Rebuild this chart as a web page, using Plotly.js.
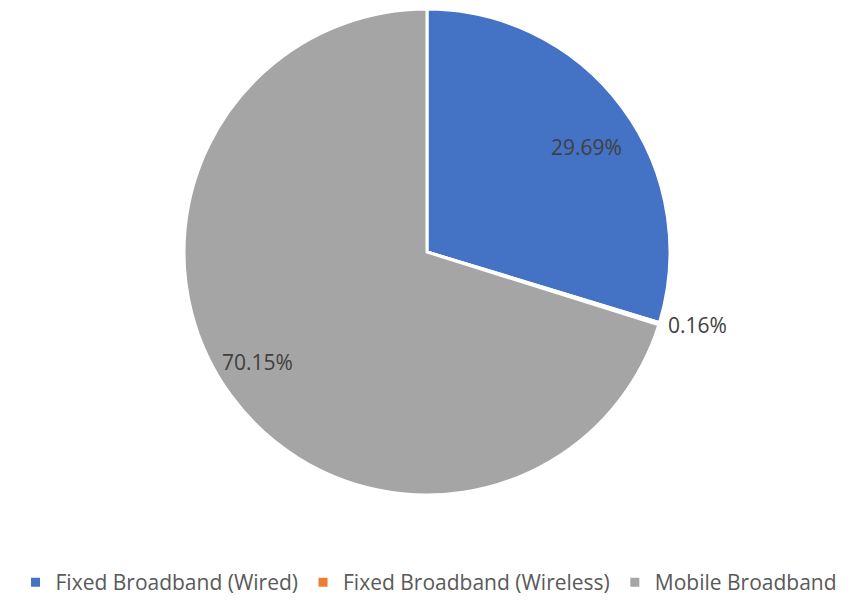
<!DOCTYPE html>
<html>
<head>
<meta charset="utf-8">
<script src="https://cdn.plot.ly/plotly-3.0.1.min.js"></script>
<style>html,body{margin:0;padding:0;background:#fff}#chart{width:858px;height:603px}</style>
</head>
<body>
<div id="chart"></div>
<script>
const categories = ["Fixed Broadband (Wired)", "Fixed Broadband (Wireless)", "Mobile Broadband"];
const shares = [29.69, 0.16, 70.15];
const colors = ["#4472C4", "#ED7D31", "#A5A5A5"];

// label placement (style, not data): radial fraction of radius and angle tweak in degrees
const labelRadius = [0.785, 1.151, 0.83];
const labelAngleTweak = [3.2, -2.1, 3.3];

const W = 858, H = 603;
const cx = 427, cy = 252, R = 243;
const domain = { x: [(cx - R) / W, (cx + R) / W], y: [1 - (cy + R) / H, 1 - (cy - R) / H] };

const total = shares.reduce((a, b) => a + b, 0);
let cum = 0;
const annotations = shares.map((v, i) => {
  const mid = (cum + v / 2) / total * 360 + labelAngleTweak[i];
  cum += v;
  const th = mid * Math.PI / 180;
  const d = labelRadius[i] * R;
  const px = cx + Math.sin(th) * d;
  const py = cy - Math.cos(th) * d;
  return {
    xref: "paper", yref: "paper", x: px / W, y: 1 - py / H,
    xanchor: "center", yanchor: "middle", showarrow: false,
    text: v.toFixed(2) + "%",
    font: { family: "Open Sans, sans-serif", size: 21, color: "#404040" }
  };
});

const trace = {
  type: "pie",
  labels: categories,
  values: shares,
  sort: false,
  direction: "clockwise",
  rotation: 0,
  marker: { colors: colors, line: { color: "#ffffff", width: 3 } },
  textinfo: "none",
  hoverinfo: "label+value",
  domain: domain
};

const layout = {
  width: W, height: H,
  margin: { l: 0, r: 0, t: 0, b: 0 },
  paper_bgcolor: "#ffffff",
  showlegend: true,
  annotations: annotations,
  legend: {
    orientation: "h", x: 0.5, xanchor: "center", y: 0, yanchor: "bottom",
    font: { family: "Open Sans, sans-serif", size: 21, color: "#595959" },
    itemwidth: 30, traceorder: "normal"
  }
};

Plotly.newPlot("chart", [trace], layout, { displayModeBar: false, staticPlot: true });
</script>
</body>
</html>
